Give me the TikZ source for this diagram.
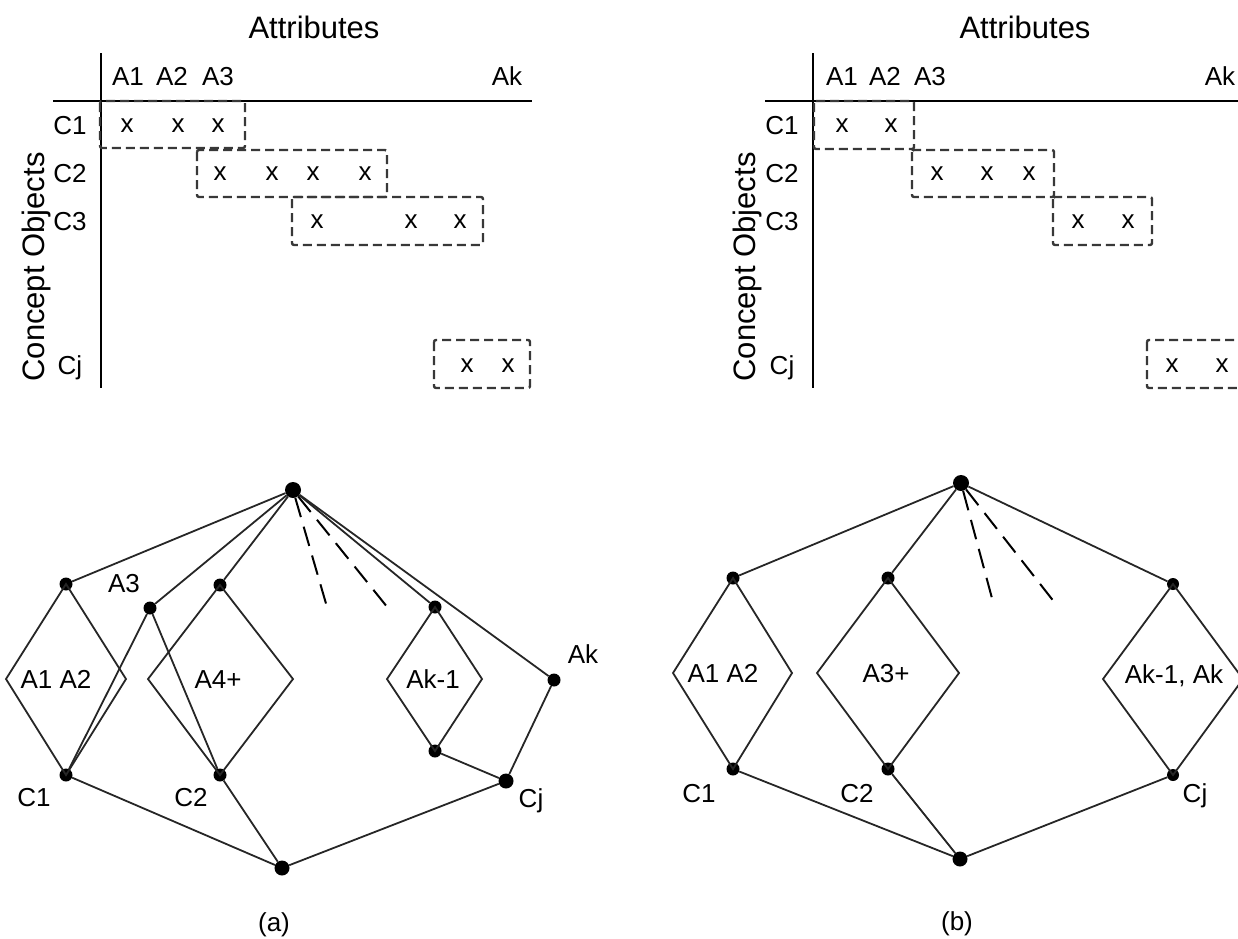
\documentclass[tikz,border=0pt]{standalone}
\usepackage{fontspec}
\setmainfont{Liberation Sans}
\begin{document}
\begin{tikzpicture}[x=1pt,y=-1pt,
  lbl/.style={font=\fontsize{26}{30}\selectfont, inner sep=0pt, anchor=base},
  ttl/.style={font=\fontsize{31}{36}\selectfont, inner sep=0pt, anchor=base},
  axis/.style={line width=2pt},
  grp/.style={draw=black!78, line width=2.4pt, dash pattern=on 9pt off 5pt, rounded corners=2pt},
  dot/.style={circle, fill=black, inner sep=0pt, minimum size=13pt},
  bigdot/.style={dot, minimum size=16pt},
  edge/.style={line width=1.8pt, black!85},
  hint/.style={line width=2pt, dash pattern=on 20pt off 10pt}]
\useasboundingbox (0,0) rectangle (1238,938);
\clip (0,0) rectangle (1238,938);

% ---------- context table (a) ----------
\node[ttl] (attl) at (314,38) {Attributes};
\node[ttl, rotate=90] (objl) at (44,267) {Concept Objects};
\coordinate (vlt) at (101,53);  \coordinate (vlb) at (101,388);
\coordinate (hll) at (53,101);  \coordinate (hlr) at (532,101);
\draw[axis] (vlt) -- (vlb);
\draw[axis] (hll) -- (hlr);
\node[lbl] (la1) at (128,85) {A1};
\node[lbl] (la2) at (172,85) {A2};
\node[lbl] (la3) at (218,85) {A3};
\node[lbl] (lak) at (507,85) {Ak};
\node[lbl] (lc1) at (70,134) {C1};
\node[lbl] (lc2) at (70,182) {C2};
\node[lbl] (lc3) at (70,230) {C3};
\node[lbl] (lcj) at (70,374) {Cj};
\foreach \px/\nm in {127/1,178/2,218/3} \node[lbl] (lx1\nm) at (\px,132) {x};
\foreach \px/\nm in {220/1,272/2,313/3,365/4} \node[lbl] (lx2\nm) at (\px,180) {x};
\foreach \px/\nm in {317/1,411/2,460/3} \node[lbl] (lx3\nm) at (\px,228) {x};
\foreach \px/\nm in {467/1,508/2} \node[lbl] (lxj\nm) at (\px,372) {x};
\draw[grp] (100,101) rectangle (245,148);
\draw[grp] (197,150) rectangle (387,197);
\draw[grp] (292,197) rectangle (483,245);
\draw[grp] (434,340) rectangle (530,388);

% ---------- context table (b) ----------
\node[ttl] (attr) at (1025,38) {Attributes};
\node[ttl, rotate=90] (objr) at (755,267) {Concept Objects};
\coordinate (vrt) at (813,53);  \coordinate (vrb) at (813,388);
\coordinate (hrl) at (765,101); \coordinate (hrr) at (1245,101);
\draw[axis] (vrt) -- (vrb);
\draw[axis] (hrl) -- (hrr);
\node[lbl] (ra1) at (842,85) {A1};
\node[lbl] (ra2) at (885,85) {A2};
\node[lbl] (ra3) at (930,85) {A3};
\node[lbl] (rak) at (1220,85) {Ak};
\node[lbl] (rc1) at (782,134) {C1};
\node[lbl] (rc2) at (782,182) {C2};
\node[lbl] (rc3) at (782,230) {C3};
\node[lbl] (rcj) at (782,374) {Cj};
\foreach \px/\nm in {842/1,891/2} \node[lbl] (rx1\nm) at (\px,132) {x};
\foreach \px/\nm in {937/1,987/2,1029/3} \node[lbl] (rx2\nm) at (\px,180) {x};
\foreach \px/\nm in {1078/1,1128/2} \node[lbl] (rx3\nm) at (\px,228) {x};
\foreach \px/\nm in {1172/1,1222/2} \node[lbl] (rxj\nm) at (\px,372) {x};
\draw[grp] (814,101) rectangle (914,149);
\draw[grp] (912,150) rectangle (1054,197);
\draw[grp] (1053,197) rectangle (1152,245);
\draw[grp] (1147,340) rectangle (1250,388);

% ---------- lattice (a) ----------
\node[bigdot] (ta) at (293,490) {};
\node[dot] (a12t) at (66,584) {};
\node[dot] (a3) at (150,608) {};
\node[dot] (a4t) at (220,585) {};
\node[dot] (ak1t) at (435,607) {};
\node[dot] (ak1b) at (435,751) {};
\node[dot] (ak) at (554,680) {};
\node[dot] (c1a) at (66,775) {};
\node[dot] (c2a) at (220,775) {};
\node[dot, minimum size=15pt] (cja) at (506,781) {};
\node[dot, minimum size=15pt] (ba) at (282,868) {};
\coordinate (a12l) at (6,679);   \coordinate (a12r) at (126,679);
\coordinate (a4l) at (148,679);  \coordinate (a4r) at (293,679);
\coordinate (ak1l) at (387,679); \coordinate (ak1r) at (482,679);
\coordinate (ha1) at (327,607);  \coordinate (ha2) at (388,608);

\draw[edge] (ta) -- (a12t);
\draw[edge] (ta) -- (a3);
\draw[edge] (ta) -- (a4t);
\draw[edge] (ta) -- (ak1t);
\draw[edge] (ta) -- (ak);
\draw[hint] (ta) -- (ha1);
\draw[hint] (ta) -- (ha2);
\draw[edge] (a12t.center) -- (a12l) -- (c1a.center) -- (a12r) -- cycle;
\draw[edge] (a4t.center) -- (a4l) -- (c2a.center) -- (a4r) -- cycle;
\draw[edge] (ak1t.center) -- (ak1l) -- (ak1b.center) -- (ak1r) -- cycle;
\draw[edge] (a3) -- (c1a);
\draw[edge] (a3) -- (c2a);
\draw[edge] (ak1b) -- (cja);
\draw[edge] (ak) -- (cja);
\draw[edge] (c1a) -- (ba);
\draw[edge] (c2a) -- (ba);
\draw[edge] (cja) -- (ba);

\node[lbl] (ta3) at (124,592) {A3};
\node[lbl] (ta12) at (56,688) {A1 A2};
\node[lbl] (ta4) at (218,688) {A4+};
\node[lbl] (tak1) at (433,688) {Ak-1};
\node[lbl] (tak) at (583,663) {Ak};
\node[lbl] (tc1a) at (34,806) {C1};
\node[lbl] (tc2a) at (191,806) {C2};
\node[lbl] (tcja) at (531,807) {Cj};
\node[lbl] (capa) at (274,931) {(a)};

% ---------- lattice (b) ----------
\node[bigdot] (tb) at (961,483) {};
\node[dot] (b12t) at (733,578) {};
\node[dot] (b3t) at (888,578) {};
\node[dot, minimum size=12pt] (bkt) at (1173,584) {};
\node[dot] (c1b) at (733,769) {};
\node[dot] (c2b) at (888,769) {};
\node[dot, minimum size=12pt] (cjb) at (1173,775) {};
\node[dot, minimum size=15pt] (bb) at (960,859) {};
\coordinate (b12l) at (673,673);  \coordinate (b12r) at (792,673);
\coordinate (b3l) at (817,673);   \coordinate (b3r) at (959,673);
\coordinate (bkl) at (1103,679);  \coordinate (bkr) at (1243,679);
\coordinate (hb1) at (993,602);   \coordinate (hb2) at (1055,603);

\draw[edge] (tb) -- (b12t);
\draw[edge] (tb) -- (b3t);
\draw[edge] (tb) -- (bkt);
\draw[hint] (tb) -- (hb1);
\draw[hint] (tb) -- (hb2);
\draw[edge] (b12t.center) -- (b12l) -- (c1b.center) -- (b12r) -- cycle;
\draw[edge] (b3t.center) -- (b3l) -- (c2b.center) -- (b3r) -- cycle;
\draw[edge] (bkt.center) -- (bkl) -- (cjb.center) -- (bkr) -- cycle;
\draw[edge] (c1b) -- (bb);
\draw[edge] (c2b) -- (bb);
\draw[edge] (cjb) -- (bb);

\node[lbl] (tb12) at (723,682) {A1 A2};
\node[lbl] (tb3) at (886,682) {A3+};
\node[lbl] (tbk) at (1174,683) {Ak-1, Ak};
\node[lbl] (tc1b) at (699,802) {C1};
\node[lbl] (tc2b) at (857,802) {C2};
\node[lbl] (tcjb) at (1195,802) {Cj};
\node[lbl] (capb) at (957,930) {(b)};
\end{tikzpicture}
\end{document}
